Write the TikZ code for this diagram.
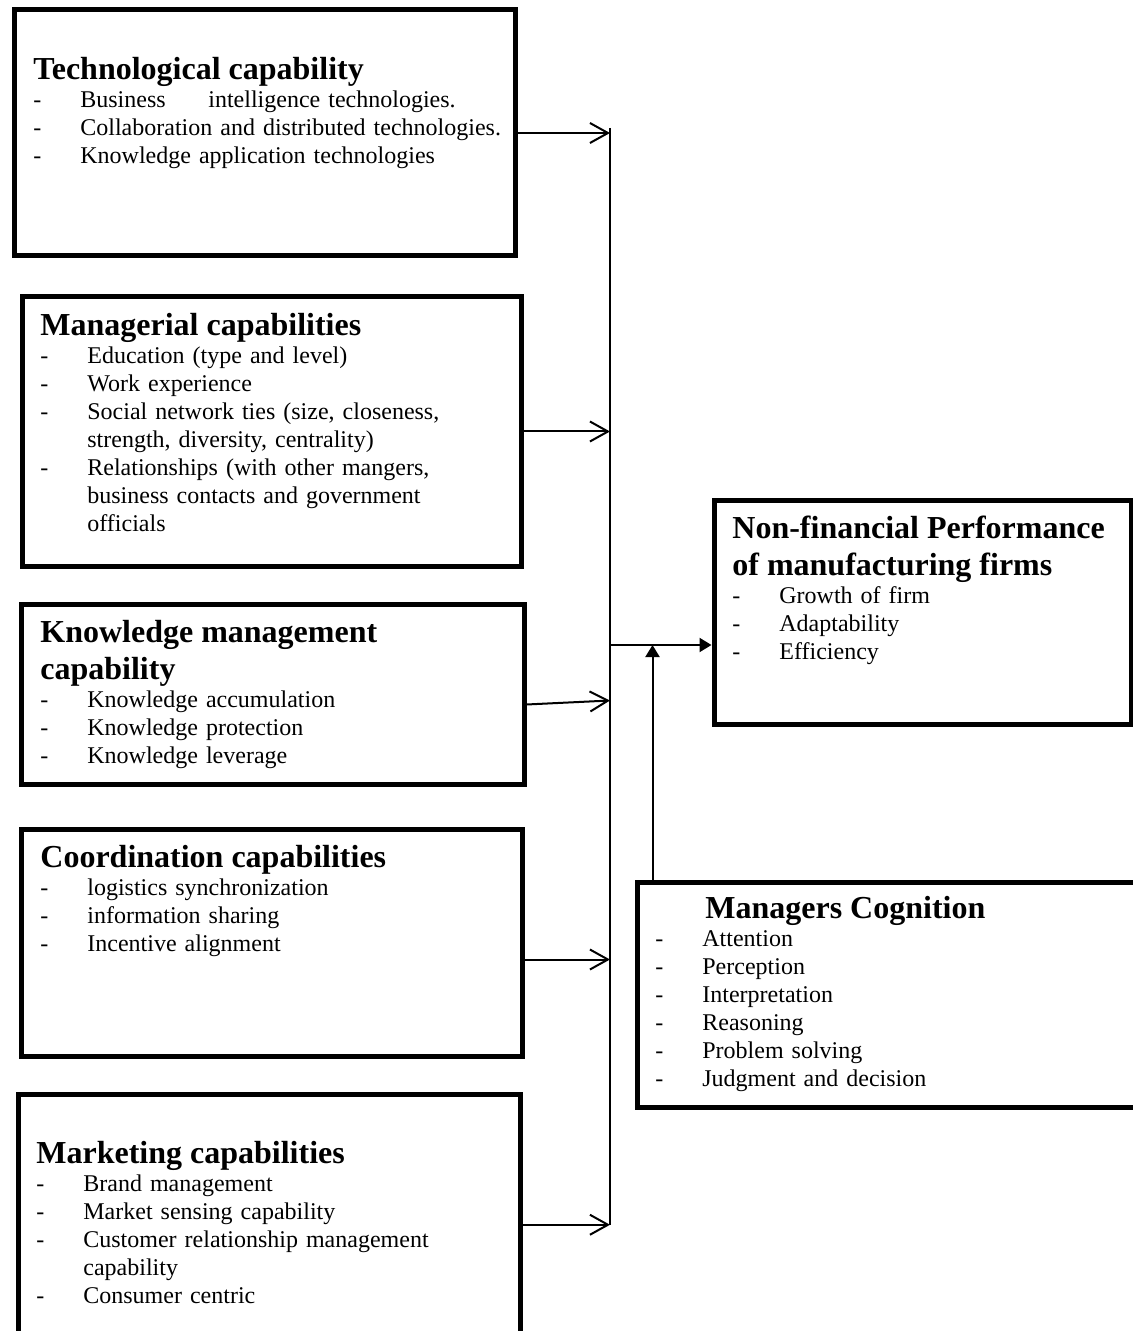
\documentclass[tikz,border=0pt]{standalone}
\usepackage{fontspec}
\setmainfont{Liberation Serif}
\usepackage{tikz}
\usetikzlibrary{positioning,arrows.meta,calc}
\setlength{\parindent}{0pt}
\newcommand{\boxtitle}[1]{{\fontsize{16}{18.5}\selectfont\bfseries #1\par}}
\newcommand{\dashitem}[1]{\makebox[23.5pt][l]{-}#1}
\newcommand{\contline}[1]{\hspace*{23.5pt}#1}

\begin{document}
\begin{tikzpicture}[
  x=0.5pt, y=-0.5pt,
  font=\fontsize{12}{14}\selectfont,
  box/.style={draw, line width=2.5pt, anchor=north west, inner sep=0pt},
  txt/.style={anchor=north west, inner sep=0pt, text width=270pt, align=left},
  arr/.style={-{Straight Barb[length=9pt,width=10pt]}, line width=1pt},
  arrfill/.style={-{Triangle[length=6pt,width=7pt]}, line width=1pt}]
  \useasboundingbox (0,0) rectangle (1133,1331);
  \clip (0,0) rectangle (1133,1331);
  % capability boxes (left column)
  \node[box, minimum width=250.5pt, minimum height=123pt] (tech) at (11.5,7.5) {};
  \node[box, minimum width=249.5pt, minimum height=134.5pt] (mgr) at (19.5,294.5) {};
  \node[box, minimum width=251.5pt, minimum height=90pt] (km) at (18.5,601.5) {};
  \node[box, minimum width=250.5pt, minimum height=113.5pt] (coord) at (18.5,826.5) {};
  \node[box, minimum width=251pt, minimum height=119.75pt] (mkt) at (15.5,1091.5) {};
  % outcome and moderator boxes (right)
  \node[box, minimum width=208.5pt, minimum height=112pt] (perf) at (711.5,497.5) {};
  \node[box, minimum width=255pt, minimum height=112.5pt] (cog) at (634.5,879.5) {};

  \node[txt] (techtxt) at (33,57) {\boxtitle{Technological capability}
    \dashitem{\makebox[64pt][l]{Business}intelligence technologies.}\\
    \dashitem{Collaboration and distributed technologies.}\\
    \dashitem{Knowledge application technologies}};
  \node[txt] (mgrtxt) at (40,313) {\boxtitle{Managerial capabilities}
    \dashitem{Education (type and level)}\\
    \dashitem{Work experience}\\
    \dashitem{Social network ties (size, closeness,}\\
    \contline{strength, diversity, centrality)}\\
    \dashitem{Relationships (with other mangers,}\\
    \contline{business contacts and government}\\
    \contline{officials}};
  \node[txt] (kmtxt) at (40,620) {\boxtitle{Knowledge management\\capability}
    \dashitem{Knowledge accumulation}\\
    \dashitem{Knowledge protection}\\
    \dashitem{Knowledge leverage}};
  \node[txt] (coordtxt) at (40,845) {\boxtitle{Coordination capabilities}
    \dashitem{logistics synchronization}\\
    \dashitem{information sharing}\\
    \dashitem{Incentive alignment}};
  \node[txt] (mkttxt) at (36,1141) {\boxtitle{Marketing capabilities}
    \dashitem{Brand management}\\
    \dashitem{Market sensing capability}\\
    \dashitem{Customer relationship management}\\
    \contline{capability}\\
    \dashitem{Consumer centric}};
  \node[txt] (perftxt) at (732,516) {\boxtitle{Non-financial Performance\\of manufacturing firms}
    \dashitem{Growth of firm}\\
    \dashitem{Adaptability}\\
    \dashitem{Efficiency}};
  \node[txt] (cogtxt) at (655,896) {\boxtitle{\hspace*{25pt}Managers Cognition}
    \dashitem{Attention}\\
    \dashitem{Perception}\\
    \dashitem{Interpretation}\\
    \dashitem{Reasoning}\\
    \dashitem{Problem solving}\\
    \dashitem{Judgment and decision}};

  % collecting line
  \coordinate (bustop) at (610,128);
  \coordinate (busbot) at (610,1225);
  \coordinate (join) at (610,645);
  \draw[line width=1pt] (bustop) -- (busbot);

  \draw[arr] (tech.east) -- (tech.east -| bustop);
  \draw[arr] (mgr.east) -- (mgr.east -| bustop);
  \draw[arr] ([yshift=-5.25pt]km.east) -- ([yshift=-3.25pt]km.east -| bustop);
  \draw[arr] ([yshift=-8.5pt]coord.east) -- ([yshift=-8.5pt]coord.east -| bustop);
  \draw[arr] ([yshift=-5.5pt]mkt.east) -- ([yshift=-5.5pt]mkt.east -| bustop);

  \draw[arrfill] (join) -- (join -| perf.west);
  \draw[arrfill] ([xshift=9pt]cog.north west) -- ([xshift=9pt]cog.north west |- join);
\end{tikzpicture}
\end{document}
